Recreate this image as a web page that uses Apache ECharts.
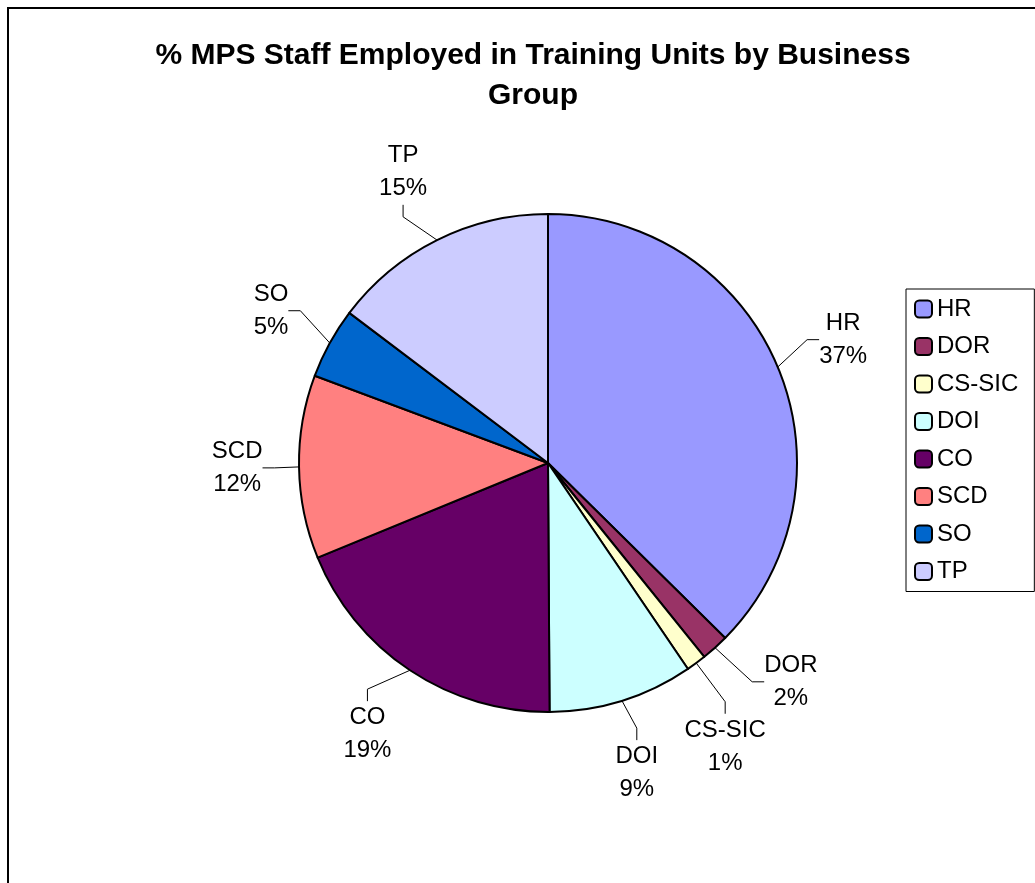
<!DOCTYPE html>
<html lang="en">
<head>
    <meta charset="UTF-8">
    <title>% MPS Staff Employed in Training Units by Business Group</title>
    <script src="https://cdn.jsdelivr.net/npm/echarts@6/dist/echarts.min.js"></script>
    <style>
        body {
            margin: 0;
            padding: 0;
            background-color: #fff;
        }
        #chart {
            width: 1035px;
            height: 883px;
        }
    </style>
</head>
<body>
    <div id="chart"></div>

    <script>
        // business groups, clockwise from 12 o'clock
        const groups = ['HR', 'DOR', 'CS-SIC', 'DOI', 'CO', 'SCD', 'SO', 'TP'];
        // share of staff (%)
        const shares = [37.4, 1.8, 1.3, 9.4, 18.9, 11.9, 4.6, 14.7];
        const sliceColors = ['#9999FF', '#993366', '#FFFFCC', '#CCFFFF', '#660066', '#FF8080', '#0066CC', '#CCCCFF'];

        const pieCenter = [548, 463];
        const pieRadius = 249;
        const labelGap = 36;
        const minLabelSep = 16; // degrees between neighbouring labels

        const chart = echarts.init(document.getElementById('chart'));

        // middle angle of every slice (degrees, clockwise from top),
        // then spread neighbours that sit too close so the small slices' labels don't collide
        const total = shares.reduce((a, b) => a + b, 0);
        const labelAngles = [];
        let run = 0;
        shares.forEach(v => {
            labelAngles.push((run + v / 2) / total * 360);
            run += v;
        });
        for (let pass = 0; pass < 10; pass++) {
            for (let i = 0; i < labelAngles.length - 1; i++) {
                const gap = labelAngles[i + 1] - labelAngles[i];
                if (gap < minLabelSep) {
                    const push = (minLabelSep - gap) / 2;
                    labelAngles[i] -= push;
                    labelAngles[i + 1] += push;
                }
            }
        }

        function placeLabel(params) {
            const a = labelAngles[params.dataIndex] * Math.PI / 180;
            const sx = Math.sin(a), cy = -Math.cos(a);
            const w = params.labelRect.width / 2, h = params.labelRect.height / 2;
            const dist = pieRadius + labelGap + Math.abs(sx) * w + Math.abs(cy) * h;
            return {
                x: pieCenter[0] + sx * dist,
                y: pieCenter[1] + cy * dist,
                align: 'center',
                verticalAlign: 'middle'
            };
        }

        const option = {
            textStyle: { fontFamily: 'Arial, "Liberation Sans", sans-serif' },
            title: {
                text: '% MPS Staff Employed in Training Units by Business\nGroup',
                left: 528,
                top: 31,
                textAlign: 'center',
                textStyle: {
                    fontSize: 30,
                    fontWeight: 'bold',
                    color: '#000',
                    lineHeight: 40
                }
            },
            legend: {
                orient: 'vertical',
                left: 906,
                top: 289,
                padding: [8, 16, 8, 8],
                itemWidth: 17,
                itemHeight: 17,
                itemGap: 13.5,
                borderColor: '#000',
                borderWidth: 1,
                data: groups,
                textStyle: { fontSize: 24, color: '#000' }
            },
            graphic: [{
                // chart-area frame that runs off the page
                type: 'rect',
                z: -10,
                shape: { x: 8, y: 8, width: 1100, height: 1000 },
                style: { fill: 'none', stroke: '#000', lineWidth: 2 }
            }],
            series: [{
                type: 'pie',
                center: pieCenter,
                radius: pieRadius,
                startAngle: 90,
                clockwise: true,
                percentPrecision: 0,
                animation: false,
                itemStyle: { borderColor: '#000', borderWidth: 2 },
                label: {
                    show: true,
                    position: 'outside',
                    formatter: '{b}\n{d}%',
                    fontSize: 24,
                    lineHeight: 33,
                    color: '#000',
                    align: 'center'
                },
                labelLine: {
                    show: true,
                    length: 20,
                    length2: 12,
                    lineStyle: { color: '#000', width: 1 }
                },
                labelLayout: placeLabel,
                emphasis: { disabled: true },
                data: groups.map((g, i) => ({
                    name: g,
                    value: shares[i],
                    itemStyle: { color: sliceColors[i] }
                }))
            }]
        };
        chart.setOption(option);
    </script>
</body>
</html>
